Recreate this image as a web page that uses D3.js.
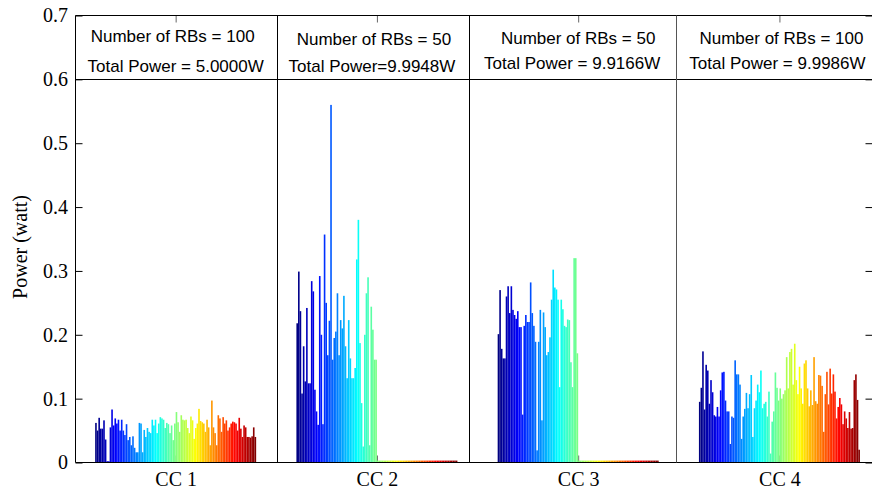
<!DOCTYPE html>
<html>
<head>
<meta charset="utf-8">
<script src="https://cdn.jsdelivr.net/npm/d3@7"></script>
<style>
  body { margin: 0; background: #fff; }
  .axis text { font-family: "Liberation Serif", "Times New Roman", serif; font-size: 20px; fill: #000; }
  .note { font-family: "Liberation Sans", Arial, sans-serif; font-size: 17px; fill: #000; }
</style>
</head>
<body>
<svg id="chart" width="872" height="491"></svg>
<script>
// Component carriers and their annotations
const categories = ["CC 1", "CC 2", "CC 3", "CC 4"];
const rbLabels = ["Number of RBs = 100", "Number of RBs = 50", "Number of RBs = 50", "Number of RBs = 100"];
const powerLabels = ["Total Power = 5.0000W", "Total Power=9.9948W", "Total Power = 9.9166W", "Total Power = 9.9986W"];
const yTicks = [0, 0.1, 0.2, 0.3, 0.4, 0.5, 0.6, 0.7];
const yTickLabels = ["0", "0.1", "0.2", "0.3", "0.4", "0.5", "0.6", "0.7"];

// Power allocated to each of the 100 resource blocks of every carrier (watt)
const cc1Power = [
  0.062, 0.050, 0.070, 0.053, 0.053, 0.066, 0.036, 0.002, 0.002, 0.055,
  0.083, 0.058, 0.069, 0.061, 0.067, 0.050, 0.067, 0.050, 0.043, 0.060,
  0.035, 0.040, 0.027, 0.041, 0.023, 0.016, 0.016, 0.062, 0.061, 0.016,
  0.051, 0.040, 0.054, 0.048, 0.046, 0.067, 0.058, 0.067, 0.046, 0.061,
  0.071, 0.069, 0.067, 0.054, 0.062, 0.060, 0.046, 0.058, 0.035, 0.061,
  0.079, 0.063, 0.048, 0.074, 0.067, 0.066, 0.067, 0.054, 0.046, 0.072,
  0.066, 0.037, 0.054, 0.061, 0.084, 0.065, 0.063, 0.061, 0.048, 0.067,
  0.055, 0.027, 0.097, 0.055, 0.046, 0.027, 0.074, 0.069, 0.048, 0.071,
  0.061, 0.066, 0.050, 0.055, 0.061, 0.064, 0.063, 0.061, 0.050, 0.070,
  0.053, 0.040, 0.058, 0.055, 0.040, 0.040, 0.039, 0.041, 0.055, 0.040
];
const cc2Power = [
  0.218, 0.299, 0.237, 0.108, 0.182, 0.127, 0.242, 0.124, 0.124, 0.284,
  0.268, 0.114, 0.080, 0.059, 0.292, 0.200, 0.060, 0.357, 0.250, 0.168,
  0.222, 0.560, 0.161, 0.195, 0.205, 0.265, 0.168, 0.223, 0.210, 0.261,
  0.182, 0.132, 0.223, 0.163, 0.132, 0.132, 0.148, 0.318, 0.380, 0.187,
  0.093, 0.025, 0.200, 0.265, 0.290, 0.027, 0.244, 0.208, 0.161, 0.161,
  0.003, 0.003, 0.003, 0.003, 0.003, 0.003, 0.003, 0.003, 0.003, 0.003,
  0.003, 0.003, 0.003, 0.003, 0.003, 0.003, 0.003, 0.003, 0.003, 0.003,
  0.003, 0.003, 0.003, 0.003, 0.003, 0.003, 0.003, 0.003, 0.003, 0.003,
  0.003, 0.003, 0.003, 0.003, 0.003, 0.003, 0.003, 0.003, 0.003, 0.003,
  0.003, 0.003, 0.003, 0.003, 0.003, 0.003, 0.003, 0.003, 0.003, 0.003
];
const cc3Power = [
  0.201, 0.270, 0.178, 0.163, 0.163, 0.260, 0.276, 0.234, 0.276, 0.239,
  0.231, 0.225, 0.237, 0.212, 0.212, 0.075, 0.214, 0.231, 0.220, 0.220,
  0.282, 0.234, 0.214, 0.189, 0.019, 0.189, 0.239, 0.066, 0.235, 0.212,
  0.168, 0.173, 0.196, 0.255, 0.302, 0.274, 0.271, 0.255, 0.118, 0.255,
  0.240, 0.214, 0.212, 0.224, 0.223, 0.157, 0.118, 0.320, 0.320, 0.171,
  0.003, 0.003, 0.003, 0.003, 0.003, 0.003, 0.003, 0.003, 0.003, 0.003,
  0.003, 0.003, 0.003, 0.003, 0.003, 0.003, 0.003, 0.003, 0.003, 0.003,
  0.003, 0.003, 0.003, 0.003, 0.003, 0.003, 0.003, 0.003, 0.003, 0.003,
  0.003, 0.003, 0.003, 0.003, 0.003, 0.003, 0.003, 0.003, 0.003, 0.003,
  0.003, 0.003, 0.003, 0.003, 0.003, 0.003, 0.003, 0.003, 0.003, 0.003
];
const cc4Power = [
  0.095, 0.117, 0.174, 0.083, 0.153, 0.144, 0.092, 0.129, 0.110, 0.074,
  0.072, 0.087, 0.072, 0.113, 0.141, 0.142, 0.097, 0.080, 0.080, 0.029,
  0.072, 0.070, 0.160, 0.138, 0.138, 0.122, 0.037, 0.072, 0.084, 0.109,
  0.085, 0.107, 0.137, 0.040, 0.085, 0.097, 0.122, 0.110, 0.144, 0.085,
  0.092, 0.095, 0.072, 0.111, 0.014, 0.064, 0.080, 0.141, 0.117, 0.097,
  0.116, 0.100, 0.107, 0.113, 0.165, 0.116, 0.173, 0.178, 0.122, 0.186,
  0.129, 0.107, 0.150, 0.116, 0.092, 0.155, 0.160, 0.116, 0.088, 0.113,
  0.090, 0.165, 0.096, 0.092, 0.137, 0.136, 0.120, 0.048, 0.107, 0.142,
  0.091, 0.147, 0.108, 0.138, 0.111, 0.069, 0.087, 0.101, 0.091, 0.060,
  0.080, 0.069, 0.054, 0.079, 0.053, 0.054, 0.129, 0.138, 0.098, 0.020
];
const series = [cc1Power, cc2Power, cc3Power, cc4Power];

// Layout
const plotLeft = 75.5, plotRight = 872.5, plotTop = 15.5, plotBottom = 462.5;
const blockSpan = 125;      // x units per carrier block
const blockLead = 12.2;     // empty units before the first RB of a block
const dividerAt = [125, 244.2, 372.8];
const noteBaseline1 = [42, 45, 44, 44];
const noteBaseline2 = [72, 72, 69, 69];
const noteShift1 = [-3, -3, 0, 2];
const noteShift2 = [0, -5, -6, -2];

const x = d3.scaleLinear().domain([0, 495]).range([plotLeft, plotRight]);
const y = d3.scaleLinear().domain([0, 0.7]).range([plotBottom, plotTop]);

// MATLAB-style jet colour map
function jet(t) {
  const c = v => Math.max(0, Math.min(1, v));
  const r = c(Math.min(4 * t - 1.5, -4 * t + 4.5));
  const g = c(Math.min(4 * t - 0.5, -4 * t + 3.5));
  const b = c(Math.min(4 * t + 0.5, -4 * t + 2.5));
  return d3.rgb(r * 255, g * 255, b * 255).toString();
}

const svg = d3.select("#chart");
const unit = x(1) - x(0);
const centers = categories.map((_, k) => k * blockSpan + blockLead + 50);

// Axes (drawn below the bars)
const yAxisL = d3.axisLeft(y).tickValues(yTicks).tickFormat((d, i) => yTickLabels[i])
  .tickSizeInner(-7).tickSizeOuter(0).tickPadding(7.5);
svg.append("g").attr("class", "axis").attr("transform", `translate(${plotLeft},0)`).call(yAxisL)
  .call(g => g.select(".domain").remove());

const yAxisR = d3.axisRight(y).tickValues(yTicks).tickFormat("").tickSizeInner(-7).tickSizeOuter(0);
svg.append("g").attr("class", "axis").attr("transform", `translate(${plotRight},0)`).call(yAxisR)
  .call(g => g.select(".domain").remove());

const xAxisB = d3.axisBottom(x).tickValues(centers).tickFormat((d, i) => categories[i])
  .tickSizeInner(-7).tickSizeOuter(0).tickPadding(9.5);
svg.append("g").attr("class", "axis").attr("transform", `translate(0,${plotBottom})`).call(xAxisB)
  .call(g => g.select(".domain").remove())
  .call(g => g.selectAll(".tick line").attr("stroke", "#666"));

const xAxisT = d3.axisTop(x).tickValues(centers).tickFormat("").tickSizeInner(-7).tickSizeOuter(0);
svg.append("g").attr("class", "axis").attr("transform", `translate(0,${plotTop})`).call(xAxisT)
  .call(g => g.select(".domain").remove())
  .call(g => g.selectAll(".tick line").attr("stroke", "#666"));

// Bars: one per resource block, coloured along the jet map inside each carrier
const bars = [];
series.forEach((vals, k) => {
  vals.forEach((v, i) => bars.push({ k, i, v, n: vals.length }));
});
svg.append("g").selectAll("rect").data(bars).join("rect")
  .attr("x", d => x(d.k * blockSpan + blockLead + d.i))
  .attr("width", unit)
  .attr("y", d => y(d.v))
  .attr("height", d => y(0) - y(d.v))
  .attr("fill", d => jet(d.i / (d.n - 1)));

// Frame, 0.6 W separator and carrier dividers
const frame = svg.append("g").attr("fill", "none").attr("stroke", "#000").attr("stroke-width", 1);
frame.append("line").attr("x1", plotLeft).attr("x2", plotLeft).attr("y1", plotTop).attr("y2", plotBottom);
frame.append("line").attr("x1", plotLeft).attr("x2", plotRight).attr("y1", plotBottom).attr("y2", plotBottom);
frame.append("line").attr("x1", plotLeft).attr("x2", plotRight).attr("y1", plotTop).attr("y2", plotTop);
frame.append("line").attr("x1", plotRight).attr("x2", plotRight).attr("y1", plotTop).attr("y2", plotBottom);
frame.append("line").attr("x1", plotLeft).attr("x2", plotRight)
  .attr("y1", Math.round(y(0.6)) + 0.5).attr("y2", Math.round(y(0.6)) + 0.5);
frame.selectAll("line.div").data(dividerAt).join("line").attr("class", "div")
  .attr("x1", d => Math.round(x(d)) + 0.5).attr("x2", d => Math.round(x(d)) + 0.5)
  .attr("y1", plotTop).attr("y2", plotBottom)
  .attr("stroke", (d, i) => i === 2 ? "#555" : "#000");

// Carrier annotations
const notes = svg.append("g");
categories.forEach((c, k) => {
  notes.append("text").attr("class", "note").attr("text-anchor", "middle")
    .attr("x", x(centers[k]) + noteShift1[k]).attr("y", noteBaseline1[k]).text(rbLabels[k]);
  notes.append("text").attr("class", "note").attr("text-anchor", "middle")
    .attr("x", x(centers[k]) + noteShift2[k]).attr("y", noteBaseline2[k]).text(powerLabels[k]);
});

// Y axis title
svg.append("text")
  .attr("transform", `translate(27,${(plotTop + plotBottom) / 2 + 8}) rotate(-90)`)
  .attr("text-anchor", "middle")
  .style("font-family", '"Liberation Serif", "Times New Roman", serif')
  .style("font-size", "20px")
  .text("Power (watt)");
</script>
</body>
</html>
